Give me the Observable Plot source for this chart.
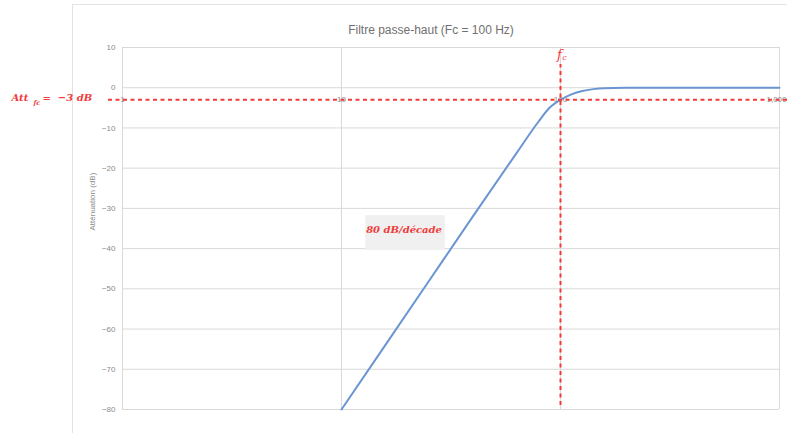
<!DOCTYPE html>
<html>
<head>
<meta charset="utf-8">
<script src="https://cdn.jsdelivr.net/npm/d3@7"></script>
<script src="https://cdn.jsdelivr.net/npm/@observablehq/plot@0.6"></script>
<style>
  html, body { margin: 0; padding: 0; background: #fff; }
  #wrap { position: relative; width: 787px; height: 433px; overflow: hidden; }
  #border { position: absolute; left: 72px; top: 4px; width: 760px; height: 460px; border: 1px solid #e3e3e3; }
  #chart { position: absolute; left: 0; top: 0; }
  #chart svg { background: transparent !important; }
</style>
</head>
<body>
<div id="wrap"><div id="border"></div><div id="chart"></div></div>
<script>
// Frequency (Hz) and attenuation (dB)
const freqs = [10, 15.85, 25.12, 39.81, 63.1, 79.43, 89.1, 100, 112.2, 125.9, 141.3, 158.5, 199.5, 251.2, 398.1, 1000];
const attenuation = [-80, -64, -48, -32, -16.2, -8.4, -5.0, -3.0, -1.65, -0.8, -0.35, -0.12, -0.02, 0, 0, 0];
const xTicks = [1, 10, 100, 1000];
const yTicks = [10, 0, -10, -20, -30, -40, -50, -60, -70, -80];
const cutoffFreq = 100;
const cutoffAtt = -3;
const titleText = "Filtre passe-haut (Fc = 100 Hz)";
const yLabel = "Atténuation (dB)";
const slopeLabel = "80 dB/décade";

const data = freqs.map((f, i) => ({f, db: attenuation[i]}));
const red = "#f23a3a";
const serif = "'DejaVu Serif', serif";
const lastTick = xTicks[xTicks.length - 1];

const plot = Plot.plot({
  width: 787,
  height: 433,
  marginLeft: 122,
  marginRight: 8,
  marginTop: 47,
  marginBottom: 24,
  style: {background: "transparent", fontFamily: "'Liberation Sans', Arial, sans-serif"},
  x: {type: "log", domain: [1, 1000], axis: null},
  y: {domain: [-80, 10], axis: null},
  marks: [
    Plot.gridY(yTicks, {stroke: "#d9d9d9", strokeOpacity: 1}),
    Plot.gridX(xTicks, {stroke: "#d9d9d9", strokeOpacity: 1}),
    Plot.axisY(yTicks, {tickSize: 0, tickPadding: 7, fontSize: 8, color: "#8a8a8a", label: null}),
    Plot.text([yLabel], {frameAnchor: "left", y: -35.5, dx: -30, rotate: -90, fontSize: 8, fill: "#8a8a8a"}),
    Plot.text([titleText], {frameAnchor: "top", dy: -22, dx: -20, fontSize: 12, fill: "#707070"}),
    Plot.text(xTicks.filter(t => t !== lastTick), {x: d => d, y: 0, dy: 12, fontSize: 8, fill: "#8a8a8a"}),
    Plot.text([lastTick], {x: d => d, y: 0, dy: 12, dx: 7, textAnchor: "end", fontSize: 8, fill: "#8a8a8a"}),
    // slope annotation box
    Plot.rect([slopeLabel], {x1: 12.9, x2: 29.8, y1: -31.8, y2: -40.5, fill: "#f0f0f0"}),
    Plot.text([slopeLabel], {x: 19.3, y: -35.2, fontSize: 10, fontWeight: "bold", fontStyle: "italic", fontFamily: serif, fill: red}),
    // response curve
    Plot.line(data, {x: "f", y: "db", stroke: "#6a95d2", strokeWidth: 2, curve: "monotone-x"}),
    // cutoff lines
    Plot.ruleY([cutoffAtt], {x1: 0.863, x2: 1090, stroke: red, strokeWidth: 2, strokeDasharray: "4,3.5"}),
    Plot.ruleX([cutoffFreq], {y1: -79, y2: 5.8, stroke: red, strokeWidth: 2, strokeDasharray: "4,3.5"}),
    // f_c label
    Plot.text(["f"], {x: cutoffFreq, y: 8.3, dx: -1, fontSize: 13, fontStyle: "italic", fontFamily: serif, fill: red}),
    Plot.text(["c"], {x: cutoffFreq, y: 8.3, dx: 4, dy: 3, fontSize: 8, fontStyle: "italic", fontFamily: serif, fill: red}),
    // Att_fc label
    Plot.text(["Att"], {frameAnchor: "left", y: cutoffAtt, dx: -111, dy: -2, textAnchor: "start", fontSize: 10, fontWeight: "bold", fontStyle: "italic", fontFamily: serif, fill: red}),
    Plot.text(["fc"], {frameAnchor: "left", y: cutoffAtt, dx: -89, dy: 3, textAnchor: "start", fontSize: 6.5, fontWeight: "bold", fontStyle: "italic", fontFamily: serif, fill: red}),
    Plot.text(["=  −3 dB"], {frameAnchor: "left", y: cutoffAtt, dx: -80, dy: -2, textAnchor: "start", fontSize: 10, fontWeight: "bold", fontStyle: "italic", fontFamily: serif, fill: red})
  ]
});
document.getElementById("chart").appendChild(plot);
</script>
</body>
</html>
